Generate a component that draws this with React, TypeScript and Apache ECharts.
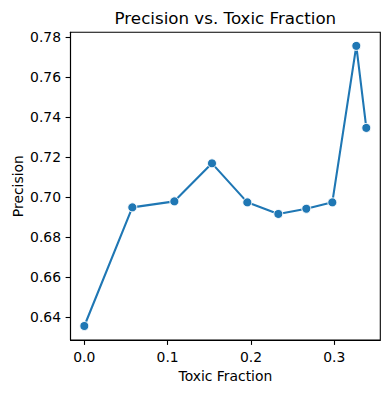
import React, { useEffect, useRef } from "react";
import * as echarts from "echarts";

const toxicFraction = [0.0, 0.0576, 0.108, 0.1532, 0.1956, 0.2328, 0.2664, 0.2976, 0.3264, 0.3384];
const precision = [0.6357, 0.695, 0.698, 0.717, 0.6975, 0.6917, 0.6943, 0.6975, 0.7757, 0.7347];
const xTicks = [0.0, 0.1, 0.2, 0.3];
const yTicks = [0.64, 0.66, 0.68, 0.7, 0.72, 0.74, 0.76, 0.78];

const FONT = "DejaVu Sans";

export default function App() {
  const ref = useRef<HTMLDivElement>(null);
  useEffect(() => {
    if (!ref.current) return;
    const chart = echarts.init(ref.current, undefined, { renderer: "svg" });
    const gridLeft = 70.5;
    const gridRight = 9.7;
    const gridTop = 32.3;
    const gridBottom = 53;
    const cx = (gridLeft + (390 - gridRight)) / 2;
    const cy = (gridTop + (393 - gridBottom)) / 2;
    chart.setOption({
      animation: false,
      backgroundColor: "#ffffff",
      grid: {
        left: gridLeft,
        right: gridRight,
        top: gridTop,
        bottom: gridBottom,
        show: true,
        borderColor: "#000000",
        borderWidth: 1.1,
        containLabel: false,
      },
      xAxis: {
        type: "value",
        min: -0.0166,
        max: 0.3552,
        splitLine: { show: false },
        axisLine: { show: true, onZero: false, lineStyle: { color: "#000", width: 1.1 } },
        axisTick: {
          show: true,
          length: 4.9,
          customValues: xTicks,
          lineStyle: { color: "#000", width: 1.1 },
        },
        axisLabel: {
          customValues: xTicks,
          margin: 9.5,
          color: "#000",
          fontSize: 13.9,
          fontFamily: FONT,
          formatter: (v: number) => v.toFixed(1),
        },
      },
      yAxis: {
        type: "value",
        min: 0.6287,
        max: 0.7825,
        splitLine: { show: false },
        axisLine: { show: true, onZero: false, lineStyle: { color: "#000", width: 1.1 } },
        axisTick: {
          show: true,
          length: 4.9,
          customValues: yTicks,
          lineStyle: { color: "#000", width: 1.1 },
        },
        axisLabel: {
          customValues: yTicks,
          margin: 9.5,
          color: "#000",
          fontSize: 13.9,
          fontFamily: FONT,
          formatter: (v: number) => v.toFixed(2),
        },
      },
      graphic: [
        {
          type: "text",
          x: cx,
          y: 18,
          style: {
            text: "Precision vs. Toxic Fraction",
            fontSize: 16.7,
            fontFamily: FONT,
            fill: "#000",
            align: "center",
            verticalAlign: "middle",
          },
        },
        {
          type: "text",
          x: cx,
          y: 376,
          style: {
            text: "Toxic Fraction",
            fontSize: 13.9,
            fontFamily: FONT,
            fill: "#000",
            align: "center",
            verticalAlign: "middle",
          },
        },
        {
          type: "text",
          x: 17.5,
          y: cy,
          rotation: Math.PI / 2,
          style: {
            text: "Precision",
            fontSize: 13.9,
            fontFamily: FONT,
            fill: "#000",
            align: "center",
            verticalAlign: "middle",
          },
        },
      ],
      series: [
        {
          type: "line",
          data: toxicFraction.map((x, i) => [x, precision[i]]),
          symbol: "circle",
          symbolSize: 9,
          showSymbol: true,
          lineStyle: { color: "#1f77b4", width: 2.1 },
          itemStyle: { color: "#1f77b4", borderColor: "#ffffff", borderWidth: 1 },
          emphasis: { disabled: true },
        },
      ],
    });
    return () => chart.dispose();
  }, []);
  return <div ref={ref} style={{ width: 390, height: 393, position: "absolute", left: 0, top: 0 }} />;
}
